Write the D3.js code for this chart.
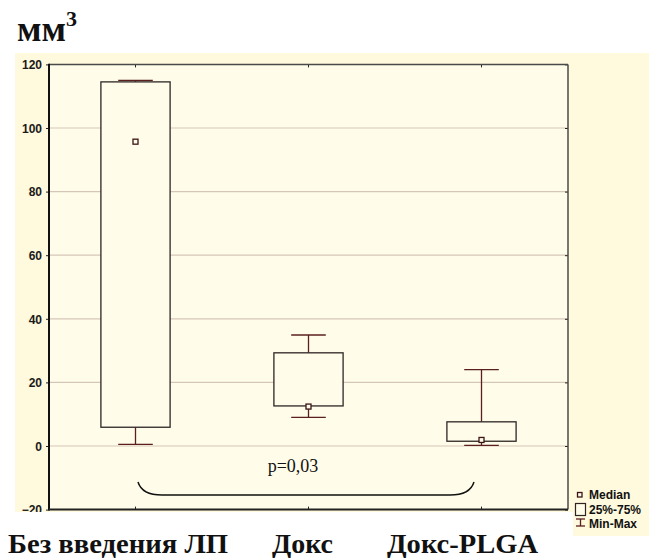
<!DOCTYPE html>
<html>
<head>
<meta charset="utf-8">
<script src="https://cdn.jsdelivr.net/npm/d3@7"></script>
<style>
  html, body { margin: 0; padding: 0; background: #ffffff; }
  svg { display: block; }
</style>
</head>
<body>
<svg id="chart" width="649" height="558"></svg>
<script>
// Tumour volume, mm³, per treatment group
const categories = ["Без введения ЛП", "Докс", "Докс-PLGA"];
const mins    = [0.5, 9.0, 0.2];
const q1s     = [5.9, 12.6, 1.5];
const medians = [95.7, 12.4, 1.9];
const q3s     = [114.5, 29.3, 7.6];
const maxs    = [115.0, 34.9, 24.0];
const yTicks  = [-20, 0, 20, 40, 60, 80, 100, 120];
const pLabel  = "p=0,03";
const legendLabels = ["Median", "25%-75%", "Min-Max"];

const svg = d3.select("#chart");
const serif = "'Liberation Serif'";
const sans = "'Liberation Sans'";

const plot = { left: 49, right: 568, top: 64.4, bottom: 509.6 };
const panel = { left: 15, top: 53, right: 649, bottom: 512 };

const x = d3.scaleBand().domain(categories).range([plot.left, plot.right]);
const y = d3.scaleLinear().domain([-20, 120]).range([plot.bottom, plot.top]);

const boxColor = "#2e2424";
const whiskerColor = "#5a1f1f";

// clip for the axis labels: the panel edge cuts the lowest one
svg.append("defs").append("clipPath").attr("id", "panel-clip")
  .append("rect").attr("x", panel.left).attr("y", panel.top)
  .attr("width", panel.right - panel.left).attr("height", panel.bottom - panel.top);

// outer panel and legend strip
svg.append("rect").attr("x", panel.left).attr("y", panel.top)
  .attr("width", panel.right - panel.left).attr("height", panel.bottom - panel.top)
  .attr("fill", "#fff9dd");
svg.append("rect").attr("x", 573).attr("y", 480).attr("width", 76).attr("height", 56)
  .attr("fill", "#fff9dd");

// plot area
svg.append("rect").attr("x", plot.left).attr("y", plot.top)
  .attr("width", plot.right - plot.left).attr("height", plot.bottom - plot.top)
  .attr("fill", "#fffde9");

// gridlines
svg.append("g").selectAll("line")
  .data(yTicks.filter(t => t > -20 && t < 120))
  .join("line")
  .attr("x1", plot.left).attr("x2", plot.right)
  .attr("y1", d => y(d)).attr("y2", d => y(d))
  .attr("stroke", "#d6c6ba").attr("stroke-width", 1.2);

// left axis
const yAxis = d3.axisLeft(y).tickValues(yTicks).tickSize(3).tickPadding(4);
const gy = svg.append("g").attr("transform", `translate(${plot.left},0)`).call(yAxis);
gy.select(".domain").remove();
gy.selectAll(".tick line").attr("stroke", "#222");
gy.selectAll(".tick text")
  .attr("font-family", sans)
  .attr("font-weight", "bold").attr("font-size", 12).attr("fill", "#1a1a1a")
  .attr("dy", "0.36em");
svg.append("g").attr("clip-path", "url(#panel-clip)").node().appendChild(gy.node());

// right axis ticks (inward)
const gyr = svg.append("g").attr("transform", `translate(${plot.right},0)`)
  .call(d3.axisRight(y).tickValues(yTicks).tickSize(-3).tickFormat(""));
gyr.select(".domain").remove();
gyr.selectAll(".tick line").attr("stroke", "#222");

// top and bottom category ticks (inward)
const gxt = svg.append("g").attr("transform", `translate(0,${plot.top})`)
  .call(d3.axisTop(x).tickSize(-3).tickFormat(""));
gxt.select(".domain").remove();
gxt.selectAll(".tick line").attr("stroke", "#222");
const gxb = svg.append("g").attr("transform", `translate(0,${plot.bottom})`)
  .call(d3.axisBottom(x).tickSize(-3).tickFormat(""));
gxb.select(".domain").remove();
gxb.selectAll(".tick line").attr("stroke", "#222");

// frame
svg.append("line").attr("x1", plot.left).attr("x2", plot.right)
  .attr("y1", plot.top).attr("y2", plot.top).attr("stroke", "#4a4a4a").attr("stroke-width", 1.5);
svg.append("line").attr("x1", plot.right).attr("x2", plot.right)
  .attr("y1", plot.top).attr("y2", plot.bottom).attr("stroke", "#4a4a4a").attr("stroke-width", 1.5);
svg.append("line").attr("x1", plot.left).attr("x2", plot.left)
  .attr("y1", plot.top - 0.75).attr("y2", plot.bottom + 1).attr("stroke", "#111").attr("stroke-width", 2);
svg.append("line").attr("x1", plot.left).attr("x2", plot.right)
  .attr("y1", plot.bottom).attr("y2", plot.bottom).attr("stroke", "#222").attr("stroke-width", 2);

// boxes
const stats = categories.map((c, i) => ({
  c, min: mins[i], q1: q1s[i], med: medians[i], q3: q3s[i], max: maxs[i]
}));
const bw = x.bandwidth();
const boxW = bw * 0.4, capW = bw * 0.2;

const g = svg.append("g");
stats.forEach(s => {
  const cx = x(s.c) + bw / 2;
  // whiskers
  g.append("line").attr("x1", cx).attr("x2", cx).attr("y1", y(s.q3)).attr("y2", y(s.max))
    .attr("stroke", whiskerColor).attr("stroke-width", 1.3);
  g.append("line").attr("x1", cx).attr("x2", cx).attr("y1", y(s.q1)).attr("y2", y(s.min))
    .attr("stroke", whiskerColor).attr("stroke-width", 1.3);
  g.append("line").attr("x1", cx - capW / 2).attr("x2", cx + capW / 2)
    .attr("y1", y(s.max)).attr("y2", y(s.max))
    .attr("stroke", whiskerColor).attr("stroke-width", 1.3);
  g.append("line").attr("x1", cx - capW / 2).attr("x2", cx + capW / 2)
    .attr("y1", y(s.min)).attr("y2", y(s.min))
    .attr("stroke", whiskerColor).attr("stroke-width", 1.3);
  // box
  g.append("rect").attr("x", cx - boxW / 2).attr("y", y(s.q3))
    .attr("width", boxW).attr("height", y(s.q1) - y(s.q3))
    .attr("fill", "#fffde9").attr("stroke", boxColor).attr("stroke-width", 1.3);
  // median marker
  g.append("rect").attr("x", cx - 2.5).attr("y", y(s.med) - 2.5)
    .attr("width", 5).attr("height", 5)
    .attr("fill", "#fffde9").attr("stroke", "#3a1414").attr("stroke-width", 1.3);
});

// brace between first and last groups
const xa = x(categories[0]) + bw / 2 + 2.5;
const xb = x(categories[2]) + bw / 2 - 7.5;
const yTop = y(-11.3), yLow = y(-15.4);
const brace = d3.path();
brace.moveTo(xa, yTop);
brace.quadraticCurveTo(xa + 4, yLow, xa + 24, yLow);
brace.lineTo(xb - 24, yLow);
brace.quadraticCurveTo(xb - 4, yLow, xb, yTop);
svg.append("path").attr("d", brace.toString())
  .attr("fill", "none").attr("stroke", "#111").attr("stroke-width", 1.5);

svg.append("text").attr("x", 293).attr("y", y(-8.3))
  .attr("text-anchor", "middle")
  .attr("font-family", serif)
  .attr("font-size", 18).attr("fill", "#111")
  .text(pLabel);

// y-axis unit
const unit = svg.append("text").attr("x", 17).attr("y", 41)
  .attr("font-family", serif)
  .attr("font-weight", "bold").attr("font-size", 36).attr("fill", "#111");
unit.append("tspan").text("мм");
unit.append("tspan").attr("font-size", 22).attr("dy", -15).text("3");

// category labels
const labelX = [8, 272, 387];
const labelW = [220, 61, 151];
categories.forEach((c, i) => {
  svg.append("text").attr("x", labelX[i]).attr("y", 553)
    .attr("font-family", serif)
    .attr("font-weight", "bold").attr("font-size", 27).attr("fill", "#111")
    .attr("textLength", labelW[i]).attr("lengthAdjust", "spacingAndGlyphs")
    .text(c);
});

// legend
const lg = svg.append("g");
lg.append("rect").attr("x", 577.5).attr("y", 492.5).attr("width", 4.5).attr("height", 4.5)
  .attr("fill", "#fffde9").attr("stroke", "#3a1414").attr("stroke-width", 1.3);
lg.append("rect").attr("x", 575.5).attr("y", 503.5).attr("width", 10).attr("height", 12)
  .attr("fill", "#fffde9").attr("stroke", boxColor).attr("stroke-width", 1.2);
lg.append("line").attr("x1", 576).attr("x2", 585).attr("y1", 519).attr("y2", 519)
  .attr("stroke", whiskerColor).attr("stroke-width", 1.3);
lg.append("line").attr("x1", 576).attr("x2", 585).attr("y1", 526).attr("y2", 526)
  .attr("stroke", whiskerColor).attr("stroke-width", 1.3);
lg.append("line").attr("x1", 580.5).attr("x2", 580.5).attr("y1", 519).attr("y2", 526)
  .attr("stroke", whiskerColor).attr("stroke-width", 1.3);
lg.selectAll("text").data(legendLabels).join("text")
  .attr("x", 589).attr("y", (d, i) => 499 + i * 14.5)
  .attr("font-family", sans).attr("font-weight", "bold")
  .attr("font-size", 12).attr("fill", "#111")
  .text(d => d);
</script>
</body>
</html>
